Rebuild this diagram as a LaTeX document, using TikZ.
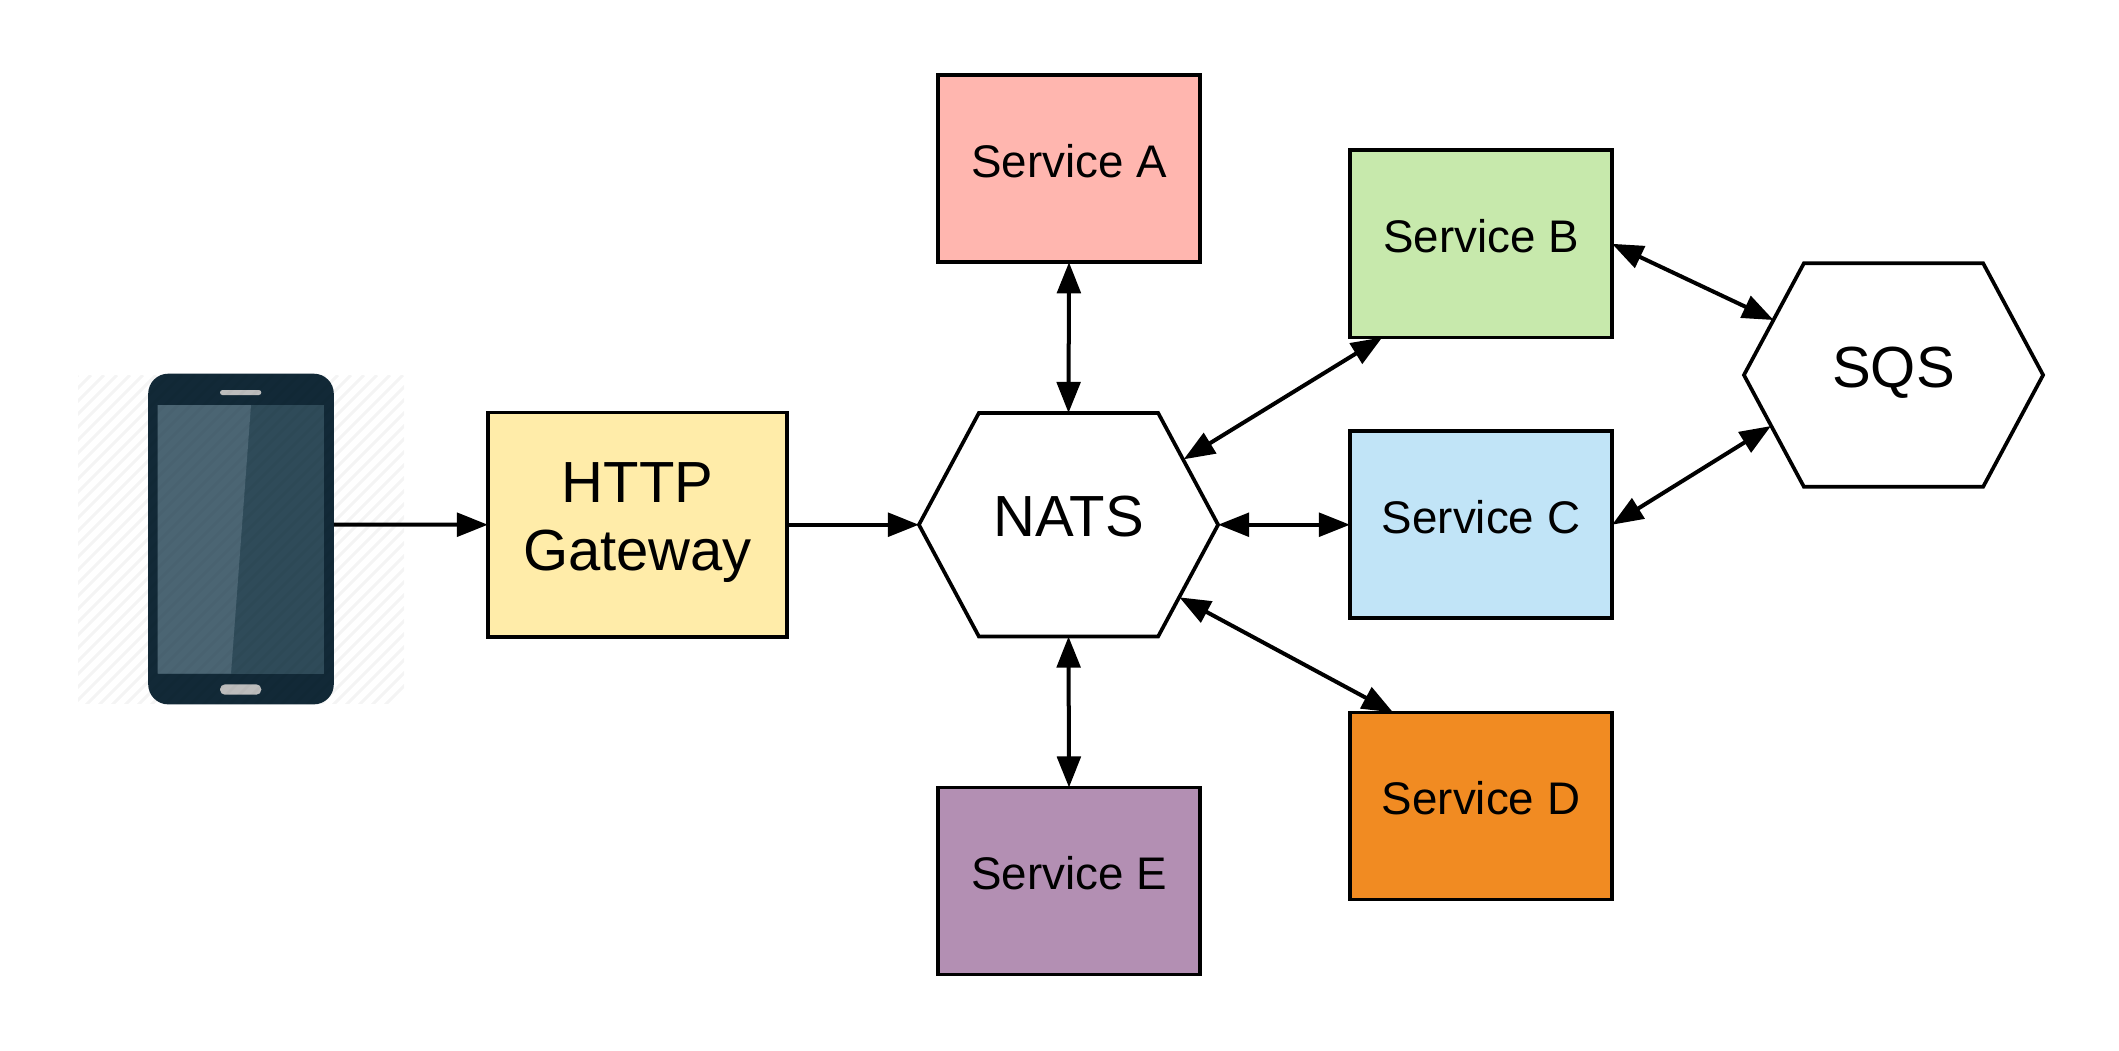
\documentclass[tikz,border=0pt]{standalone}
\usepackage{fontspec}
\setmainfont{Liberation Sans}
\usetikzlibrary{arrows.meta,calc}
\definecolor{cA}{HTML}{FFB6AF}
\definecolor{cB}{HTML}{C7E9AC}
\definecolor{cC}{HTML}{C1E4F7}
\definecolor{cD}{HTML}{F18B22}
\definecolor{cE}{HTML}{B38FB3}
\definecolor{cG}{HTML}{FFECA9}
\definecolor{phBody}{HTML}{122937}
\definecolor{phScreen}{HTML}{2F4B59}
\definecolor{phShine}{HTML}{4B6573}
\definecolor{phKey}{HTML}{BDBDBD}
\definecolor{hatch}{HTML}{F4F4F4}
\tikzset{
  px/.style={x=0.01cm,y=-0.01cm},
  svcbox/.style={draw=black,line width=0.037cm,outer sep=0pt,minimum width=2.62cm,minimum height=1.87cm,inner sep=0pt,
    font=\fontsize{13pt}{16pt}\selectfont,text height=0.255cm,text depth=0.08cm},
  gwbox/.style={draw=black,line width=0.037cm,outer sep=0pt,fill=cG,minimum width=2.99cm,minimum height=2.245cm,inner sep=0pt},
  gwtext/.style={align=center,inner sep=0pt,yshift=0.02cm,font=\fontsize{16.5pt}{19.4pt}\selectfont},
  hexbase/.style={outer sep=0pt,minimum width=2.99cm,minimum height=2.235cm,inner sep=0pt,
    font=\fontsize{16.5pt}{19pt}\selectfont,text height=0.32cm,text depth=0.08cm},
  hexline/.style={draw=black,line width=0.037cm,line join=miter},
  link/.style={draw=black,line width=0.04cm},
  one/.style={link,-{Triangle[length=0.31cm,width=0.235cm]}},
  both/.style={link,{Triangle[length=0.31cm,width=0.235cm]}-{Triangle[length=0.31cm,width=0.235cm]}},
  hatchline/.style={line width=0.03cm,hatch},
  overline/.style={line width=0.03cm,black,opacity=0.025},
}
\begin{document}
\begin{tikzpicture}[px]
\useasboundingbox (0,0) rectangle (2119,1050);
% hatched backdrop
\begin{scope}
  \clip (78,375) rectangle (404,703);
  \foreach \k in {0,13,...,720} {
    \draw[hatchline] (\k,375) -- ++(-330,330);
  }
\end{scope}
% phone
\node[fill=phBody,rounded corners=0.2cm,outer sep=0pt,minimum width=1.855cm,minimum height=3.305cm,inner sep=0pt] (phone) at (241,539) {};
\fill[phScreen] (157.7,405) rectangle (323.7,673.7);
\fill[phShine] (157.7,405) -- (251,405) -- (231,673.7) -- (157.7,673.7) -- cycle;
\fill[phKey,rounded corners=0.025cm] (220,390) rectangle (261.3,395);
\fill[phKey,rounded corners=0.05cm] (220,684.3) rectangle (261.3,694.7);
\begin{scope}
  \clip[rounded corners=0.2cm] (148.3,374) rectangle (333.7,704);
  \foreach \k in {0,13,...,720} {
    \draw[overline] (\k,375) -- ++(-330,330);
  }
\end{scope}
% boxes
\node[svcbox,fill=cA] (a) at (1069,168.7) {Service A};
\node[svcbox,fill=cB] (b) at (1481,243.8) {Service B};
\node[svcbox,fill=cC] (c) at (1481,524.7) {Service C};
\node[svcbox,fill=cD] (d) at (1481,806) {Service D};
\node[svcbox,fill=cE] (e) at (1069,881) {Service E};
\node[gwbox,label={[gwtext]center:{HTTP\\Gateway}}] (gw) at (637.5,524.7) {};
% hexagons
\node[hexbase] (nats) at (1068.5,524.7) {NATS};
\node[hexbase] (sqs) at (1893.5,375) {SQS};
\draw[hexline] (nats.west) -- ($(nats.north west)+(60,0)$) -- ($(nats.north east)+(-60,0)$) -- (nats.east)
  -- ($(nats.south east)+(-60,0)$) -- ($(nats.south west)+(60,0)$) -- cycle;
\draw[hexline] (sqs.west) -- ($(sqs.north west)+(60,0)$) -- ($(sqs.north east)+(-60,0)$) -- (sqs.east)
  -- ($(sqs.south east)+(-60,0)$) -- ($(sqs.south west)+(60,0)$) -- cycle;
% connectors
\draw[one] ([yshift=0.143cm]phone.east) -- (gw.west);
\draw[one] (gw.east) -- (nats.west);
\draw[both] (nats.north) -- (a.south);
\draw[both] (nats.south) -- (e.north);
\draw[both] (nats.east) -- (c.west);
\draw[both] ([shift={(-34.4,-65.4)}]nats.east) -- ([shift={(32.3,0)}]b.south west);
\draw[both] ([shift={(-38.7,72.6)}]nats.east) -- ([shift={(43.2,0)}]d.north west);
\draw[both] (b.east) -- ([shift={(29.6,-55)}]sqs.west);
\draw[both] (c.east) -- ([shift={(27,51)}]sqs.west);
\end{tikzpicture}
\end{document}
